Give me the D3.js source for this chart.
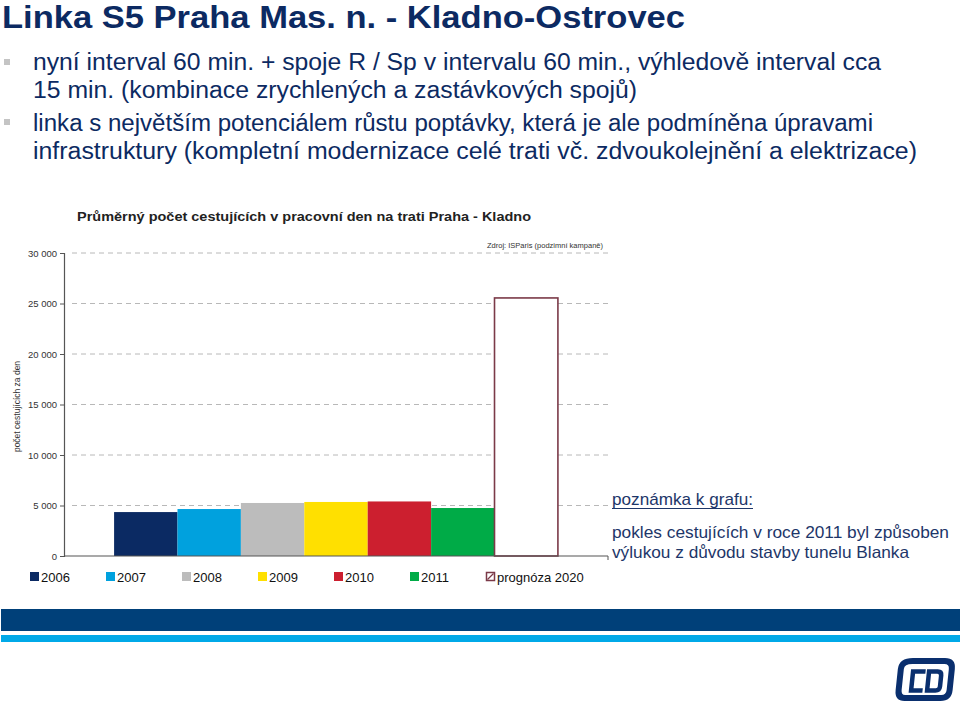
<!DOCTYPE html>
<html><head><meta charset="utf-8">
<script src="https://cdn.jsdelivr.net/npm/d3@7"></script>
<style>
html,body{margin:0;padding:0;background:#fff;}
svg{display:block;font-family:"Liberation Sans",Arial,sans-serif;}
</style></head>
<body>
<svg id="c" width="960" height="705"></svg>
<script>
// ---- data ----
const series = ["2006","2007","2008","2009","2010","2011","prognóza 2020"];
const values = [4350, 4650, 5250, 5350, 5400, 4750, 25550];
const yTicks = [0, 5000, 10000, 15000, 20000, 25000, 30000];
const headerTitle = "Linka S5 Praha Mas. n. - Kladno-Ostrovec";
const bulletLines = [
  "nyní interval 60 min. + spoje R / Sp v intervalu 60 min., výhledově interval cca",
  "15 min. (kombinace zrychlených a zastávkových spojů)",
  "linka s největším potenciálem růstu poptávky, která je ale podmíněna úpravami",
  "infrastruktury (kompletní modernizace celé trati vč. zdvoukolejnění a elektrizace)"
];
const chartTitle = "Průměrný počet cestujících v pracovní den na trati Praha - Kladno";
const sourceNote = "Zdroj: ISParis (podzimní kampaně)";
const yAxisTitle = "počet cestujících za den";
const noteHeading = "poznámka k grafu:";
const noteLines = ["pokles cestujících v roce 2011 byl způsoben", "výlukou z důvodu stavby tunelu Blanka"];

// ---- styles ----
const colors = ["#0b2a63","#00a1de","#bcbcbc","#ffe000","#cc1f2f","#00ab47","#ffffff"];
const forecastStroke = "#7b3a48";
const navy = "#0c2a62";
const FF = "Liberation Sans, Arial, sans-serif";

const svg = d3.select("#c");

// header
svg.append("text").attr("x",2).attr("y",28).attr("font-size",32).attr("font-weight","bold")
  .attr("font-family",FF).attr("fill",navy).attr("textLength",683).attr("lengthAdjust","spacingAndGlyphs").text(headerTitle);

const lineY = [70, 98, 131, 159];
const lineLen = [848, 604, 840, 884];
bulletLines.forEach((t,i)=>{
  svg.append("text").attr("x",33).attr("y",lineY[i]).attr("font-size",23).attr("font-family",FF).attr("fill",navy)
    .attr("textLength",lineLen[i]).attr("lengthAdjust","spacingAndGlyphs").text(t);
});
[59,119].forEach(y=>svg.append("rect").attr("x",4).attr("y",y).attr("width",6).attr("height",6).attr("fill","#c4c4c4"));

// chart
const x0 = 64, x1 = 608, yTop = 253, yBot = 556;
const y = d3.scaleLinear().domain([0,30000]).range([yBot, yTop]);
const x = d3.scaleBand().domain(series).range([x0, x1]).paddingInner(0).paddingOuter(0.79);
const loc = d3.formatLocale({decimal:",", thousands:" ", grouping:[3], currency:["",""]});
const fmt = loc.format(",d");

svg.append("text").attr("x",77).attr("y",221).attr("font-size",13.5).attr("font-weight","bold").attr("font-family",FF)
  .attr("fill","#222").attr("textLength",454).attr("lengthAdjust","spacingAndGlyphs").text(chartTitle);
svg.append("text").attr("x",487).attr("y",248).attr("font-size",7.5).attr("font-family",FF).attr("fill","#333")
  .attr("textLength",116).attr("lengthAdjust","spacingAndGlyphs").text(sourceNote);

// gridlines
svg.append("g").selectAll("line").data(yTicks.filter(d=>d>0)).join("line")
  .attr("x1",x0+8).attr("x2",x1).attr("y1",d=>y(d)).attr("y2",d=>y(d))
  .attr("stroke","#b8b8b8").attr("stroke-width",1).attr("stroke-dasharray","5,4");

// bars
svg.append("g").selectAll("rect").data(series).join("rect")
  .attr("x",d=>x(d)).attr("width",x.bandwidth())
  .attr("y",(d,i)=>y(values[i])).attr("height",(d,i)=>yBot - y(values[i]))
  .attr("fill",(d,i)=>colors[i])
  .attr("stroke",(d,i)=>i===series.length-1?forecastStroke:"none")
  .attr("stroke-width",(d,i)=>i===series.length-1?1.6:0);

// y axis
const yAxis = d3.axisLeft(y).tickValues(yTicks).tickFormat(fmt).tickSize(4).tickPadding(3);
const gy = svg.append("g").attr("transform",`translate(${x0},0)`).call(yAxis);
gy.select(".domain").attr("stroke","#555").attr("stroke-width",1.2);
gy.selectAll(".tick line").attr("stroke","#555");
gy.selectAll(".tick text").attr("font-size",9.5).attr("fill","#333").attr("font-family",FF);

// x axis line
svg.append("line").attr("x1",x0).attr("x2",x1).attr("y1",yBot).attr("y2",yBot).attr("stroke","#555").attr("stroke-width",1.2);
svg.append("line").attr("x1",x1).attr("x2",x1).attr("y1",yBot).attr("y2",yBot+4).attr("stroke","#555");

// y axis title
svg.append("text").attr("transform",`translate(20,${(yTop+yBot)/2+2}) rotate(-90)`).attr("font-family",FF)
  .attr("text-anchor","middle").attr("font-size",8.5).attr("fill","#333").text(yAxisTitle);

// legend
const lg = svg.append("g").selectAll("g").data(series).join("g")
  .attr("transform",(d,i)=>`translate(${30+i*76},572)`);
lg.append("rect").attr("width",(d,i)=>i===series.length-1?8:9).attr("height",(d,i)=>i===series.length-1?8:9)
  .attr("x",(d,i)=>i===series.length-1?0.5:0).attr("y",(d,i)=>i===series.length-1?0.5:0)
  .attr("fill",(d,i)=>colors[i])
  .attr("stroke",(d,i)=>i===series.length-1?forecastStroke:"none").attr("stroke-width",1.5);
lg.filter((d,i)=>i===series.length-1).append("line").attr("x1",1.5).attr("y1",7.5).attr("x2",7.5).attr("y2",1.5)
  .attr("stroke",forecastStroke).attr("stroke-width",1.3);
lg.append("text").attr("x",11).attr("y",10).attr("font-size",13).attr("font-family",FF).attr("fill","#111").text(d=>d);

// note
const noteColor = "#1d3669";
svg.append("text").attr("x",612).attr("y",505).attr("font-size",17).attr("font-family",FF).attr("fill",noteColor)
  .attr("textLength",141).attr("lengthAdjust","spacingAndGlyphs").text(noteHeading);
svg.append("line").attr("x1",612).attr("x2",753).attr("y1",508.5).attr("y2",508.5).attr("stroke",noteColor).attr("stroke-width",1);
noteLines.forEach((t,i)=>{
  svg.append("text").attr("x",612).attr("y",538+i*20).attr("font-size",16.5).attr("font-family",FF).attr("fill",noteColor)
    .attr("textLength",i===0?337:297).attr("lengthAdjust","spacingAndGlyphs").text(t);
});

// bottom bands
svg.append("rect").attr("x",1).attr("y",609).attr("width",959).attr("height",22).attr("fill","#004079");
svg.append("rect").attr("x",1).attr("y",635).attr("width",959).attr("height",7).attr("fill","#00a9e8");

// logo (approximate ČD mark)
const logoC = "#0a2f6e";
const logo = svg.append("g").attr("transform","translate(897,658) skewX(-6)");
logo.append("path")
  .attr("d","M16,3 H48 Q56,3 56,11 V32 Q56,40 48,40 H12 Q5,40 5,32 V11 Q5,3 16,3 Z")
  .attr("fill","none").attr("stroke",logoC).attr("stroke-width",6);
logo.append("path").attr("d","M30,13.5 H17.5 V32.5 H29").attr("fill","none").attr("stroke",logoC).attr("stroke-width",4.5);
logo.append("path").attr("d","M33.5,13.5 V32.5 H42 Q46,32.5 46,28.5 V17.5 Q46,13.5 42,13.5 Z").attr("fill","none").attr("stroke",logoC).attr("stroke-width",4.5);
logo.append("path").attr("d","M17,6.5 L21,9.5 L25,6.5").attr("fill","none").attr("stroke","#ffffff").attr("stroke-width",1.5);
</script>
</body></html>
